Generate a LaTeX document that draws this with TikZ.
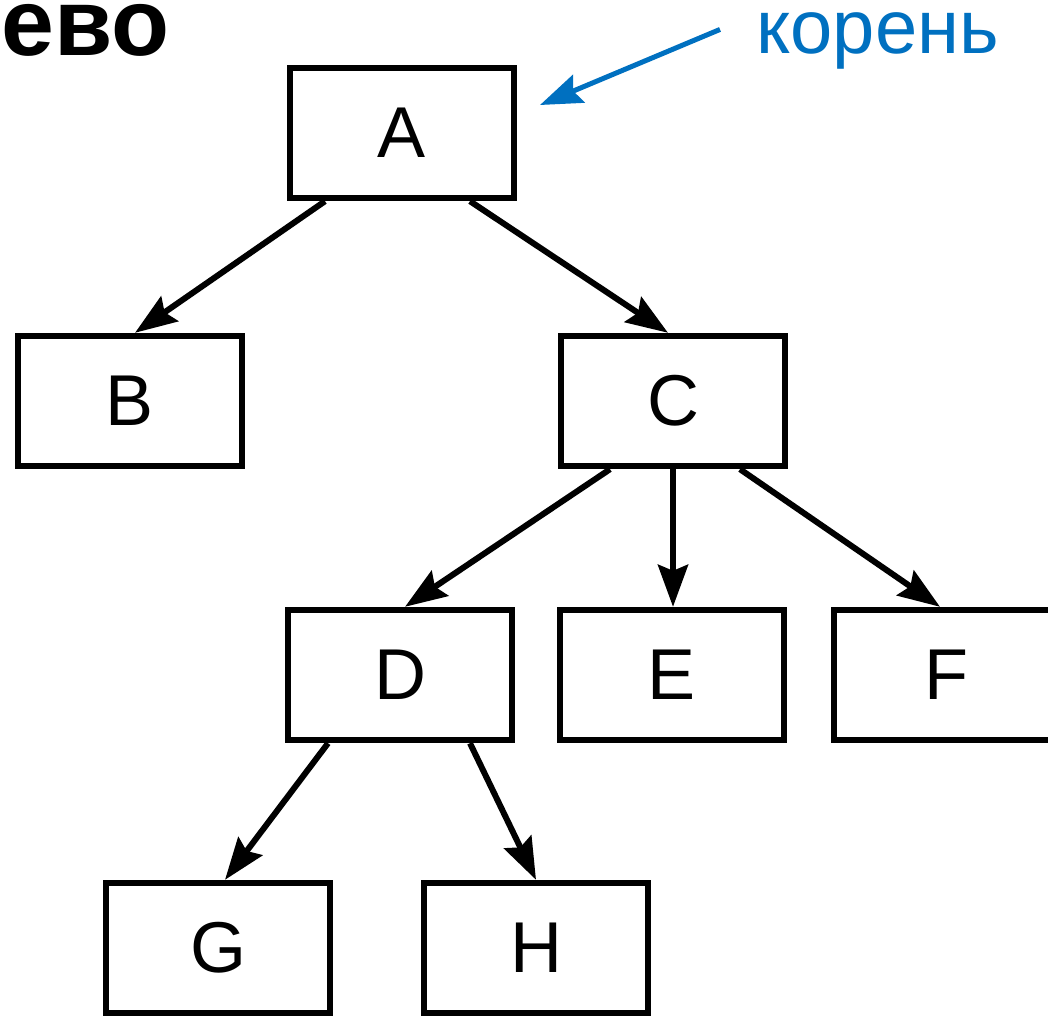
\documentclass[tikz,border=0pt]{standalone}
\usepackage{fontspec}
\setmainfont{Liberation Sans}
\usetikzlibrary{arrows.meta,calc}
\definecolor{rootblue}{HTML}{0070C0}
\tikzset{
	box/.style={draw, line width=3.2pt, minimum width=112pt, minimum height=65pt, inner sep=0pt, font=\fontsize{36}{40}\selectfont},
	edge/.style={line width=3pt, -{Stealth[length=21pt,width=15pt,inset=3pt]}},
}

\begin{document}
\begin{tikzpicture}[x=0.5pt,y=-0.5pt]
\useasboundingbox (0,0) rectangle (1048,1017);

\node[box] (A) at (402,133) {A};
\node[box] (B) at (130,401) {B};
\node[box] (C) at (673,401) {C};
\node[box] (D) at (400,675) {D};
\node[box] (E) at (672,675) {E};
\node[box] (F) at (946,675) {F};
\node[box] (G) at (218,948) {G};
\node[box] (H) at (536,948) {H};

\node[anchor=base west, inner sep=0pt, font=\fontsize{47.5}{50}\selectfont\bfseries] (title) at (1,55) {ево};
\node[anchor=base west, inner sep=0pt, text=rootblue, font=\fontsize{38}{42}\selectfont] (root) at (756,54) {корень};
\coordinate (tip) at (540,105);

\draw[edge] ($(A.south)+(-77,0)$) -- ($(B.north)+(5,0)$);
\draw[edge] ($(A.south)+(68,0)$) -- ($(C.north)+(-5,0)$);

\draw[edge] ($(C.south)+(-63,0)$) -- ($(D.north)+(5,0)$);
\draw[edge] (C.south) -- (E.north -| C.south);
\draw[edge] ($(C.south)+(67,0)$) -- ($(F.north)+(-6,0)$);

\draw[edge] ($(D.south)+(-72,0)$) -- ($(G.north)+(7,0)$);
\draw[edge] ($(D.south)+(70,0)$) -- (H.north);

\draw[edge, rootblue, line width=2.5pt] ($(root.west)+(-36,-12)$) -- (tip);
\end{tikzpicture}
\end{document}
